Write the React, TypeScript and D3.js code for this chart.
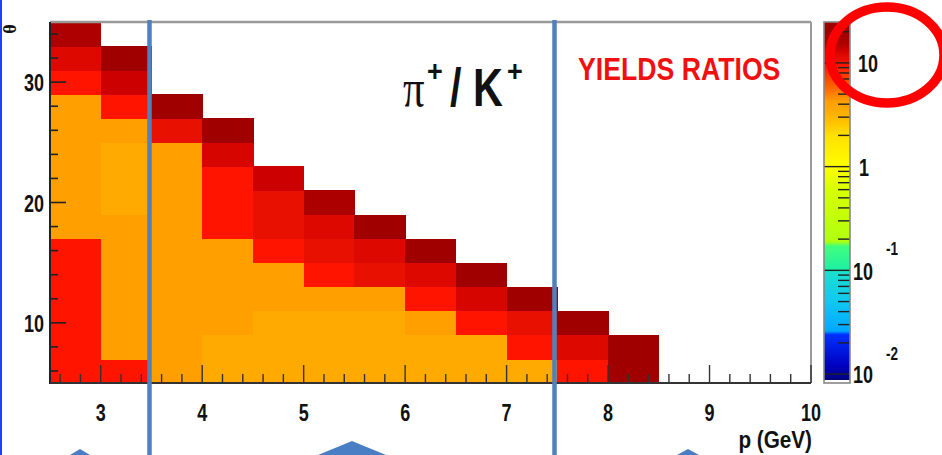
import React from "react";
import * as d3 from "d3";

// ---- data ----
const pLowEdges = [2.5, 3.0, 3.5, 4.0, 4.5, 5.0, 5.5, 6.0, 6.5, 7.0, 7.5, 8.0];
const thetaLowEdges = [5, 7, 9, 11, 13, 15, 17, 19, 21, 23, 25, 27, 29, 31, 33];
const pBinWidth = 0.5;
const thetaBinWidth = 2;
// pi+/K+ yield ratio, one array per p bin, from theta = 5 upward (null = empty)
const ratioByP: (number | null)[][] = [
  [9.5, 9.5, 9.5, 9.5, 9.5, 9.5, 4.2, 4.2, 4.2, 4.2, 4.2, 4.2, 9.5, 12, 15.5],
  [9.5, 4.2, 4.2, 4.2, 4.2, 4.2, 4.2, 3.5, 3.5, 3.5, 4.2, 9.5, 13.5, 20, null],
  [4.2, 4.2, 4.2, 4.2, 4.2, 4.2, 4.2, 4.2, 4.2, 4.2, 10.5, 20, null, null, null],
  [3.5, 3.5, 4.2, 4.2, 4.2, 4.2, 9.5, 9.5, 9.5, 12.5, 20, null, null, null, null],
  [3.5, 3.5, 3.5, 4.2, 4.2, 9.5, 10.5, 10.5, 13.5, null, null, null, null, null, null],
  [3.5, 3.5, 3.5, 4.2, 9.5, 10.5, 12, 16, null, null, null, null, null, null, null],
  [3.5, 3.5, 3.5, 4.2, 10.5, 12, 20, null, null, null, null, null, null, null, null],
  [3.5, 3.5, 4.2, 9.5, 12, 20, null, null, null, null, null, null, null, null, null],
  [3.5, 3.5, 9.5, 12.5, 20, null, null, null, null, null, null, null, null, null, null],
  [3.5, 9.5, 10.5, 20, null, null, null, null, null, null, null, null, null, null, null],
  [9.5, 12, 20, null, null, null, null, null, null, null, null, null, null, null, null],
  [20, 20, null, null, null, null, null, null, null, null, null, null, null, null, null],
];
const xTickValues = [3, 4, 5, 6, 7, 8, 9, 10];
const yTickValues = [10, 20, 30];
const zDomain = [0.0082, 24.8];
const paletteStops = [0.0082, 0.0095, 0.012, 0.024, 0.026, 0.05, 0.095, 0.105, 0.17, 0.19, 0.6, 1.0, 2.0, 3.0, 3.5, 4.2, 6, 9, 9.5, 10.5, 12, 13.5, 15, 20, 25];
const paletteColors = ["#000060", "#000090", "#0000C0", "#0030FF", "#00A8FF", "#10C8F0", "#18E0D0", "#20F0A0", "#40FF80", "#B0FF10", "#D8FF00", "#FFFF00", "#FFE000", "#FFB800", "#FFAA00", "#FFA000", "#FF6000", "#FF2000", "#FF1400", "#E81000", "#DD0800", "#CC0000", "#B00000", "#A00000", "#A00000"];

const W = 942;
const H = 455;
const FONT = "'Liberation Sans', Arial, sans-serif";
const SERIF = "'Liberation Serif', 'Times New Roman', serif";

export default function App() {
  const x = d3.scaleLinear().domain([2.5, 10]).range([50, 811]);
  const y = d3.scaleLinear().domain([5, 35]).range([383, 22]);
  const zAxis = d3.scaleLog().domain(zDomain).range([383, 22]);
  const color = d3
    .scaleLog<string>()
    .domain(paletteStops)
    .range(paletteColors)
    .interpolate(d3.interpolateRgb)
    .clamp(true);

  const cells: { x0: number; x1: number; y0: number; y1: number; c: string; k: string }[] = [];
  ratioByP.forEach((col, i) => {
    col.forEach((v, j) => {
      if (v == null) return;
      const p0 = pLowEdges[i];
      const t0 = thetaLowEdges[j];
      cells.push({
        x0: x(p0),
        x1: x(p0 + pBinWidth),
        y0: y(t0 + thetaBinWidth),
        y1: y(t0),
        c: color(v),
        k: `${i}-${j}`,
      });
    });
  });

  const xMinor = d3.range(2.6, 10.0, 0.2).filter((v) => Math.abs(v - Math.round(v)) > 0.05);
  const yMinor = d3.range(6, 35, 2).filter((v) => v % 10 !== 0);

  // colour bar slices
  const barX0 = 824;
  const barX1 = 850;
  const barSlices = d3.range(22, 380, 1).map((py) => ({ py, c: color(zAxis.invert(py + 0.5)) }));
  const zTicks: { v: number; major: boolean }[] = [];
  for (let k = -2; k <= 1; k++) {
    for (let m = 1; m <= 9; m++) {
      const v = m * Math.pow(10, k);
      if (v >= zDomain[0] && v <= zDomain[1]) zTicks.push({ v, major: m === 1 });
    }
  }

  const tickLabel = (tx: number, ty: number, s: string, anchor: string, size = 24) => (
    <text
      transform={`translate(${tx},${ty}) scale(0.75,1)`}
      textAnchor={anchor as any}
      fontFamily={FONT}
      fontSize={size}
      fill="#111"
      style={{ fontWeight: 700 }}
    >
      {s}
    </text>
  );

  return (
    <svg width={W} height={H} style={{ position: "absolute", left: 0, top: 0, background: "#fff" }}>
      <rect x={0} y={0} width={W} height={H} fill="#fff" />
      {/* heatmap cells */}
      <g shapeRendering="crispEdges">
        {cells.map((c) => (
          <rect key={c.k} x={c.x0} y={c.y0} width={c.x1 - c.x0 + 0.6} height={c.y1 - c.y0 + 0.6} fill={c.c} />
        ))}
      </g>
      {/* frame */}
      <line x1={50} x2={811} y1={22} y2={22} stroke="#999" strokeWidth={2.5} />
      <line x1={811} x2={811} y1={22} y2={383} stroke="#999" strokeWidth={2} />
      <line x1={50} x2={50} y1={22} y2={384} stroke="#222" strokeWidth={2} />
      <line x1={50} x2={811} y1={383} y2={383} stroke="#333" strokeWidth={2} />
      {/* x ticks */}
      {xTickValues.map((v) => (
        <line key={`xm${v}`} x1={x(v)} x2={x(v)} y1={383} y2={365} stroke="#333" strokeWidth={1.4} />
      ))}
      {xMinor.map((v) => (
        <line key={`xn${v.toFixed(1)}`} x1={x(v)} x2={x(v)} y1={383} y2={374} stroke="#333" strokeWidth={1.4} />
      ))}
      {/* y ticks */}
      {yTickValues.map((v) => (
        <line key={`ym${v}`} x1={50} x2={66} y1={y(v)} y2={y(v)} stroke="#222" strokeWidth={1.6} />
      ))}
      {yMinor.map((v) => (
        <line key={`yn${v}`} x1={50} x2={58} y1={y(v)} y2={y(v)} stroke="#222" strokeWidth={1.6} />
      ))}
      {/* tick labels */}
      {xTickValues.map((v) => (
        <g key={`xl${v}`}>{tickLabel(x(v), 421, String(v), "middle")}</g>
      ))}
      {yTickValues.map((v) => (
        <g key={`yl${v}`}>{tickLabel(44, y(v) + 9, String(v), "end")}</g>
      ))}
      {/* axis titles */}
      <text
        transform="translate(16,29) rotate(-90)"
        textAnchor="middle"
        fontFamily={SERIF}
        fontSize={18}
        fontWeight={700}
        fill="#111"
      >
        θ
      </text>
      <text transform="translate(812,448) scale(0.9,1)" textAnchor="end" fontFamily={FONT} fontSize={23} fill="#111" style={{ fontWeight: 700 }}>
        p (GeV)
      </text>
      {/* plot title text */}
      <text transform="translate(403,106) scale(0.82,1)" fontFamily={SERIF} fontSize={52} fill="#111">
        π
      </text>
      <text transform="translate(427,81) scale(0.9,1)" fontFamily={FONT} fontSize={30} fontWeight={700} fill="#111">
        +
      </text>
      <text transform="translate(450,106) scale(0.78,1)" fontFamily={FONT} fontSize={53} fontWeight={700} fill="#111">
        / K
      </text>
      <text transform="translate(507,81) scale(0.9,1)" fontFamily={FONT} fontSize={30} fontWeight={700} fill="#111">
        +
      </text>
      <text transform="translate(578,80) scale(0.86,1)" fontFamily={FONT} fontSize={31} fontWeight={700} fill="#F01010">
        YIELDS RATIOS
      </text>
      {/* colour bar */}
      <g shapeRendering="crispEdges">
        {barSlices.map((s) => (
          <rect key={`b${s.py}`} x={barX0} y={s.py} width={barX1 - barX0} height={1.2} fill={s.c} />
        ))}
      </g>
      {zTicks.map((t) => (
        <line
          key={`zt${t.v}`}
          x1={t.major ? barX0 : barX1 - 12}
          x2={barX1}
          y1={zAxis(t.v)}
          y2={zAxis(t.v)}
          stroke="#222"
          strokeWidth={1.4}
        />
      ))}
      <rect x={barX0} y={22} width={barX1 - barX0} height={361} fill="none" stroke="#888" strokeWidth={1.6} />
      {tickLabel(858, zAxis(10) + 9, "10", "start")}
      {tickLabel(859, zAxis(1) + 9, "1", "start")}
      {tickLabel(853, zAxis(0.1) + 10, "10", "start")}
      {tickLabel(886, zAxis(0.1) - 15, "-1", "start", 18)}
      {tickLabel(853, zAxis(0.01) + 9, "10", "start")}
      {tickLabel(886, zAxis(0.01) - 14, "-2", "start", 18)}
      {/* overlay annotations */}
      <line x1={1} x2={1} y1={0} y2={H} stroke="#1F3FFF" strokeWidth={2} />
      <line x1={149.5} x2={149.5} y1={20} y2={H} stroke="#4F81BD" strokeWidth={4.5} />
      <line x1={554.5} x2={554.5} y1={20} y2={H} stroke="#4F81BD" strokeWidth={4.5} />
      <polygon points="70,455 80,449 90,455" fill="#4A7EC4" />
      <polygon points="318,455 352,441 386,455" fill="#4A7EC4" />
      <polygon points="677,455 688,449 699,455" fill="#4A7EC4" />
      <ellipse cx={887} cy={55} rx={57} ry={48} fill="none" stroke="#FF0000" strokeWidth={9.5} />
    </svg>
  );
}
